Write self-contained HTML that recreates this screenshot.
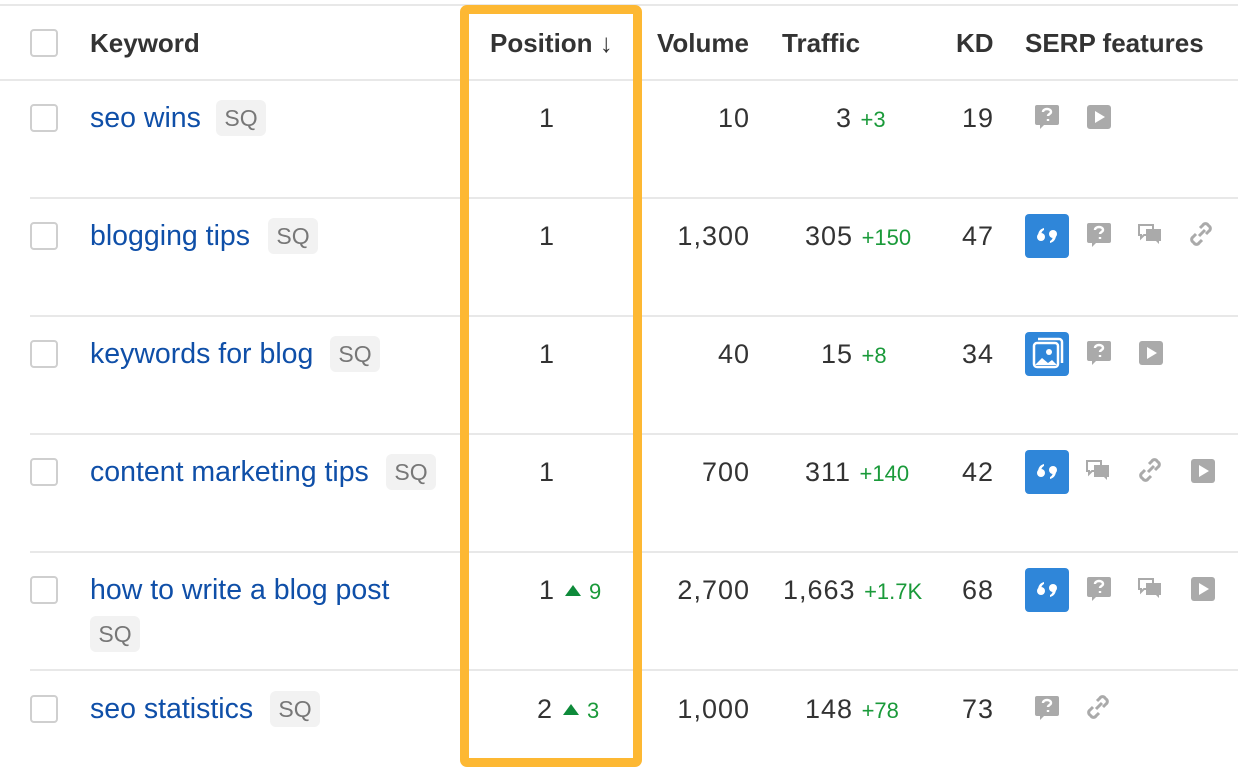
<!DOCTYPE html>
<html><head><meta charset="utf-8"><style>
body{margin:0;width:1238px;height:780px;background:#fff;position:relative;overflow:hidden;font-family:"Liberation Sans",Arial,sans-serif;}
.a{position:absolute;white-space:nowrap;line-height:30px;font-size:27px;color:#333;}
.n{letter-spacing:1px}
.h{font-weight:bold;color:#333;font-size:26px;letter-spacing:0}
.line{position:absolute;height:2px;background:#e8e8e8;right:0}
.cb{position:absolute;left:30px;width:24px;height:24px;border:2px solid #cfcfcf;border-radius:4px;}
.kw{color:#0f4fa8;font-size:28.5px}
.sq{position:absolute;width:50px;height:36px;background:#f2f2f2;border-radius:6px;color:#777;font-size:23px;line-height:36px;text-align:center;}
.r{text-align:right}
.g{color:#1a9a3a;font-size:22px;letter-spacing:0}
.tri{display:inline-block;width:0;height:0;border-left:8px solid transparent;border-right:8px solid transparent;border-bottom:11px solid #0e8a3a;margin:0 8px 0 10px;vertical-align:3px}
.ic{position:absolute}
#box{position:absolute;left:460px;top:5px;width:164px;height:744px;border:9px solid #fdb833;border-radius:7px;}
</style></head><body>
<svg width="0" height="0" style="position:absolute"><defs>
<g id="q"><path d="M2 0h20a2 2 0 0 1 2 2v16a2 2 0 0 1-2 2H9l-4 4v-4H2a2 2 0 0 1-2-2V2a2 2 0 0 1 2-2z" fill="#aaa"/><path d="M8 7c0-2 2-3 4-3s4 1 4 3-3 2-3 4M13 14v2" stroke="#fff" stroke-width="2.4" fill="none"/></g>
<g id="p"><rect width="24" height="24" rx="3" fill="#aaa"/><path d="M8 6l10 6-10 6z" fill="#fff"/></g>
<g id="c"><path d="M1 2h14v10H6l-3 3v-3H1z" fill="none" stroke="#aaa" stroke-width="2"/><path d="M8 6h15v12h-2v3l-3-3H8z" fill="#aaa"/></g>
<g id="l"><path d="M10 14l6-6M7 12l-3 3a3 3 0 0 0 0 5l1 1a3 3 0 0 0 5 0l3-3M17 12l3-3a3 3 0 0 0 0-5l-1-1a3 3 0 0 0-5 0l-3 3" stroke="#aaa" stroke-width="3" fill="none"/></g>
<g id="b"><rect width="44" height="44" rx="4" fill="#2f86d9"/><circle cx="16" cy="23" r="4" fill="#fff"/><path d="M13 22c0-4 2-7 6-8v2c-2 1-3 3-3 6z" fill="#fff"/><circle cx="28" cy="20" r="4" fill="#fff"/><path d="M31 21c0 4-2 7-6 8v-2c2-1 3-3 3-6z" fill="#fff"/></g>
<g id="im"><rect width="44" height="44" rx="4" fill="#2f86d9"/><rect x="9" y="11" width="24" height="24" rx="3" fill="none" stroke="#fff" stroke-width="2.5"/><path d="M13 7h21a3 3 0 0 1 3 3v21" fill="none" stroke="#fff" stroke-width="2.5"/><circle cx="24" cy="20" r="3" fill="#fff"/><path d="M10 33l7-7 6 5 4-3 5 5z" fill="#fff"/></g>
</defs></svg>

<div class="line" style="left:0;top:4px"></div>
<div class="line" style="left:0;top:79px"></div>
<div class="line" style="left:30px;top:197px"></div>
<div class="line" style="left:30px;top:315px"></div>
<div class="line" style="left:30px;top:433px"></div>
<div class="line" style="left:30px;top:551px"></div>
<div class="line" style="left:30px;top:669px"></div>

<div class="cb" style="top:29px"></div>
<div class="a h" style="left:90px;top:28px">Keyword</div>
<div class="a h" style="left:490px;top:28px">Position ↓</div>
<div class="a h" style="left:657px;top:28px">Volume</div>
<div class="a h" style="left:782px;top:28px">Traffic</div>
<div class="a h" style="left:956px;top:28px">KD</div>
<div class="a h" style="left:1025px;top:28px">SERP features</div>

<!-- row 1 -->
<div class="cb" style="top:104px"></div>
<div class="a kw" style="left:90px;top:103px">seo wins</div>
<div class="sq" style="left:216px;top:100px">SQ</div>
<div class="a n" style="left:539px;top:103px">1</div>
<div class="a r n" style="right:488px;top:103px">10</div>
<div class="a n" style="left:836px;top:103px">3 <span class="g">+3</span></div>
<div class="a r n" style="right:244px;top:103px">19</div>
<svg class="ic" style="left:1035px;top:105px" width="26" height="26"><use href="#q"/></svg>
<svg class="ic" style="left:1087px;top:105px" width="26" height="26"><use href="#p"/></svg>

<!-- row 2 -->
<div class="cb" style="top:222px"></div>
<div class="a kw" style="left:90px;top:221px">blogging tips</div>
<div class="sq" style="left:268px;top:218px">SQ</div>
<div class="a n" style="left:539px;top:221px">1</div>
<div class="a r n" style="right:488px;top:221px">1,300</div>
<div class="a n" style="left:805px;top:221px">305 <span class="g">+150</span></div>
<div class="a r n" style="right:244px;top:221px">47</div>
<svg class="ic" style="left:1025px;top:214px" width="44" height="44"><use href="#b"/></svg>
<svg class="ic" style="left:1087px;top:223px" width="26" height="26"><use href="#q"/></svg>
<svg class="ic" style="left:1138px;top:223px" width="26" height="26"><use href="#c"/></svg>
<svg class="ic" style="left:1189px;top:222px" width="26" height="26"><use href="#l"/></svg>

<!-- row 3 -->
<div class="cb" style="top:340px"></div>
<div class="a kw" style="left:90px;top:339px">keywords for blog</div>
<div class="sq" style="left:330px;top:336px">SQ</div>
<div class="a n" style="left:539px;top:339px">1</div>
<div class="a r n" style="right:488px;top:339px">40</div>
<div class="a n" style="left:821px;top:339px">15 <span class="g">+8</span></div>
<div class="a r n" style="right:244px;top:339px">34</div>
<svg class="ic" style="left:1025px;top:332px" width="44" height="44"><use href="#im"/></svg>
<svg class="ic" style="left:1087px;top:341px" width="26" height="26"><use href="#q"/></svg>
<svg class="ic" style="left:1139px;top:341px" width="26" height="26"><use href="#p"/></svg>

<!-- row 4 -->
<div class="cb" style="top:458px"></div>
<div class="a kw" style="left:90px;top:457px">content marketing tips</div>
<div class="sq" style="left:386px;top:454px">SQ</div>
<div class="a n" style="left:539px;top:457px">1</div>
<div class="a r n" style="right:488px;top:457px">700</div>
<div class="a n" style="left:805px;top:457px">311 <span class="g">+140</span></div>
<div class="a r n" style="right:244px;top:457px">42</div>
<svg class="ic" style="left:1025px;top:450px" width="44" height="44"><use href="#b"/></svg>
<svg class="ic" style="left:1086px;top:459px" width="26" height="26"><use href="#c"/></svg>
<svg class="ic" style="left:1138px;top:458px" width="26" height="26"><use href="#l"/></svg>
<svg class="ic" style="left:1191px;top:459px" width="26" height="26"><use href="#p"/></svg>

<!-- row 5 -->
<div class="cb" style="top:576px"></div>
<div class="a kw" style="left:90px;top:575px">how to write a blog post</div>
<div class="sq" style="left:90px;top:616px">SQ</div>
<div class="a n" style="left:539px;top:575px">1<span class="tri"></span><span class="g">9</span></div>
<div class="a r n" style="right:488px;top:575px">2,700</div>
<div class="a n" style="left:783px;top:575px">1,663 <span class="g">+1.7K</span></div>
<div class="a r n" style="right:244px;top:575px">68</div>
<svg class="ic" style="left:1025px;top:568px" width="44" height="44"><use href="#b"/></svg>
<svg class="ic" style="left:1087px;top:577px" width="26" height="26"><use href="#q"/></svg>
<svg class="ic" style="left:1138px;top:577px" width="26" height="26"><use href="#c"/></svg>
<svg class="ic" style="left:1191px;top:577px" width="26" height="26"><use href="#p"/></svg>

<!-- row 6 -->
<div class="cb" style="top:695px"></div>
<div class="a kw" style="left:90px;top:694px">seo statistics</div>
<div class="sq" style="left:270px;top:691px">SQ</div>
<div class="a n" style="left:537px;top:694px">2<span class="tri"></span><span class="g">3</span></div>
<div class="a r n" style="right:488px;top:694px">1,000</div>
<div class="a n" style="left:805px;top:694px">148 <span class="g">+78</span></div>
<div class="a r n" style="right:244px;top:694px">73</div>
<svg class="ic" style="left:1035px;top:696px" width="26" height="26"><use href="#q"/></svg>
<svg class="ic" style="left:1086px;top:695px" width="26" height="26"><use href="#l"/></svg>

<div id="box"></div>
</body></html>
